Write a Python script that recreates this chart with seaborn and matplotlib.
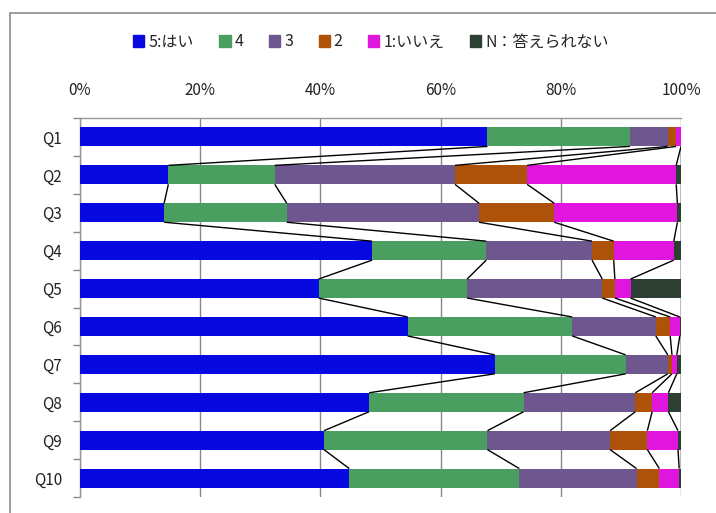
import matplotlib
matplotlib.use("Agg")
import matplotlib.pyplot as plt
import matplotlib.patches as mpatches
import numpy as np
import seaborn as sns

# dados (% por questão)
perguntas = ["Q1", "Q2", "Q3", "Q4", "Q5", "Q6", "Q7", "Q8", "Q9", "Q10"]
rotulos = ["5:はい", "4", "3", "2", "1:いいえ", "N：答えられない"]
cores = ["#0808E0", "#4A9E60", "#6E568F", "#AD5208", "#E016DE", "#2D3E33"]

resp_5 = [67.8, 14.7, 14.0, 48.6, 39.7, 54.5, 69.0, 48.1, 40.6, 44.8]
resp_4 = [23.7, 17.7, 20.4, 19.0, 24.7, 27.4, 21.8, 25.7, 27.2, 28.3]
resp_3 = [6.3, 30.0, 32.0, 17.6, 22.5, 13.9, 7.0, 18.6, 20.4, 19.5]
resp_2 = [1.4, 12.0, 12.5, 3.6, 2.1, 2.4, 0.7, 2.8, 6.2, 3.8]
resp_1 = [0.8, 24.8, 20.5, 10.0, 2.6, 1.6, 0.8, 2.7, 5.1, 3.3]
resp_n = [0.0, 0.8, 0.6, 1.2, 8.4, 0.2, 0.7, 2.1, 0.5, 0.3]

series = [resp_5, resp_4, resp_3, resp_2, resp_1, resp_n]
acumulado = np.cumsum(np.array(series), axis=0)

sns.set_theme(style="white")
plt.rcParams['font.family'] = ['Noto Sans CJK JP', 'DejaVu Sans']

fig = plt.figure(figsize=(7.16, 5.13), dpi=100)
ax = fig.add_axes([80 / 716, 1 - 497 / 513, 601 / 716, 379 / 513])

# barras empilhadas: desenha do maior acumulado para o menor
for k in range(len(series) - 1, -1, -1):
    sns.barplot(x=acumulado[k], y=perguntas, orient="h", color=cores[k],
                saturation=1, width=0.5, linewidth=0, ax=ax, zorder=3)

# linhas de série (como no Excel)
meia = 0.25
for k in range(len(series)):
    for i in range(len(perguntas) - 1):
        ax.plot([acumulado[k][i], acumulado[k][i + 1]], [i + meia, i + 1 - meia],
                color="black", lw=1, zorder=4, solid_capstyle="butt")

ax.set_xlim(0, 100)
ax.set_ylim(len(perguntas) - 0.5, -0.5)
ax.set_xticks(range(0, 101, 20))
ax.set_xticklabels([f"{v}%" for v in range(0, 101, 20)])
ax.xaxis.tick_top()
ax.tick_params(axis="x", length=0, pad=14, labelsize=11, colors="#222222")
ax.tick_params(axis="y", which="major", length=0, pad=13, labelsize=11, colors="#222222")
ax.set_yticks(np.arange(-0.5, len(perguntas), 1), minor=True)
ax.tick_params(axis="y", which="minor", length=5, width=1, color="#888888", left=True)
ax.set_xlabel("")
ax.set_ylabel("")
ax.grid(axis="x", color="#888888", lw=1, zorder=0)
ax.set_axisbelow(True)
for lado in ["bottom", "right"]:
    ax.spines[lado].set_visible(False)
for lado in ["left", "top"]:
    ax.spines[lado].set_color("#999999")
    ax.spines[lado].set_linewidth(1)

# legenda no topo
handles = [mpatches.Patch(color=c, label=r) for c, r in zip(cores, rotulos)]
fig.legend(handles=handles, loc="center", bbox_to_anchor=(371 / 716, 1 - 42 / 513),
           ncol=6, frameon=False, fontsize=11.5, handlelength=0.7, handleheight=0.7,
           handletextpad=0.25, columnspacing=1.6)

# moldura da área do gráfico
moldura = mpatches.Rectangle((10 / 716, -0.1), 1.2, 1.1 - 13 / 513, transform=fig.transFigure,
                             fill=False, edgecolor="#8c8c8c", lw=1.2)
fig.patches.append(moldura)

fig.savefig("out.png", dpi=100)
